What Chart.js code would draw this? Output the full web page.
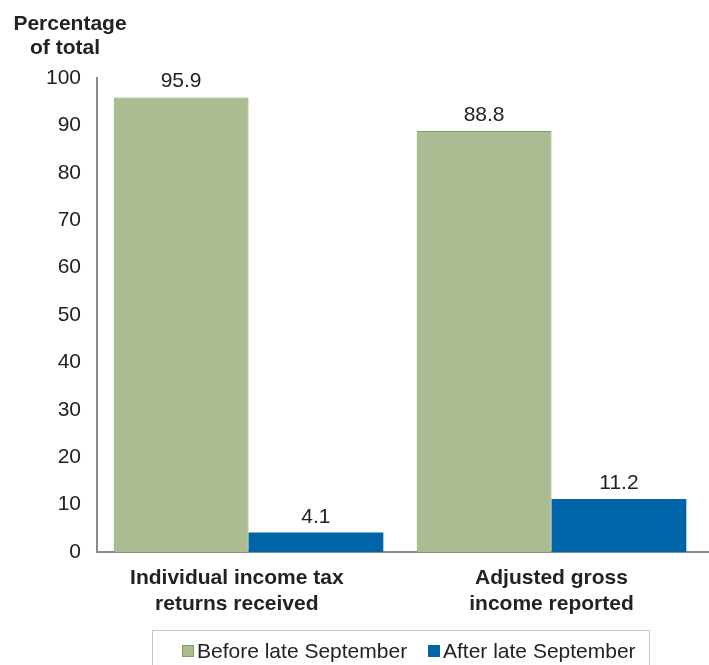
<!DOCTYPE html>
<html>
<head>
<meta charset="utf-8">
<script src="https://cdn.jsdelivr.net/npm/chart.js@4/dist/chart.umd.min.js"></script>
<style>
body { margin: 0; background: #fff; }
#wrap { width: 709px; height: 665px; position: relative; }
</style>
</head>
<body>
<div id="wrap"><canvas id="myChart"></canvas></div>
<script>
// trailing spaces nudge the first label left, as in the original layout
var categories = [["Individual income tax    ", "returns received    "], ["Adjusted gross", "income reported"]];
var seriesNames = ["Before late September", "After late September"];
var beforeValues = [95.9, 88.8];
var afterValues = [4.1, 11.2];
var yTicks = [0, 10, 20, 30, 40, 50, 60, 70, 80, 90, 100];

var green = "#abbc93";
var greenEdge = "#76a257";
var blue = "#0064a8";
var font = "'Liberation Sans', Arial, sans-serif";

// title, value labels and the boxed legend
var extras = {
    id: "extras",
    afterDatasetsDraw: function(chart) {
        var ctx = chart.ctx;
        var area = chart.chartArea;
        ctx.save();
        // axis line runs on to the edge
        ctx.strokeStyle = "#8a8a8a";
        ctx.lineWidth = 2;
        ctx.beginPath();
        ctx.moveTo(area.right - 1, chart.scales.y.getPixelForValue(0));
        ctx.lineTo(chart.width, chart.scales.y.getPixelForValue(0));
        ctx.stroke();

        ctx.fillStyle = "#222";
        ctx.textAlign = "center";
        ctx.textBaseline = "alphabetic";
        ctx.font = "21px " + font;
        chart.data.datasets.forEach(function(ds, i) {
            chart.getDatasetMeta(i).data.forEach(function(bar, j) {
                ctx.fillText(ds.data[j].toFixed(1), bar.x, bar.y - 10);
            });
        });

        ctx.font = "bold 21px " + font;
        ctx.fillText("Percentage", 70, 30);
        ctx.fillText("of total", 65, 54);

        // legend
        ctx.strokeStyle = "#c8c8c8";
        ctx.lineWidth = 1;
        ctx.strokeRect(152.5, 630.5, 497, 40);
        ctx.font = "21px " + font;
        ctx.textAlign = "left";
        var items = [
            {x: 182, fill: green, edge: greenEdge},
            {x: 428, fill: blue, edge: blue}
        ];
        items.forEach(function(it, k) {
            ctx.fillStyle = it.fill;
            ctx.fillRect(it.x, 645, 12, 12);
            ctx.strokeStyle = it.edge;
            ctx.strokeRect(it.x + 0.5, 645.5, 11, 11);
            ctx.fillStyle = "#222";
            ctx.fillText(seriesNames[k], it.x + 15, 658);
        });
        ctx.restore();
    }
};

new Chart(document.getElementById("myChart"), {
    type: "bar",
    data: {
        labels: categories,
        datasets: [
            {
                label: seriesNames[0],
                data: beforeValues,
                backgroundColor: green,
                borderColor: greenEdge,
                borderWidth: 1,
                borderSkipped: "bottom"
            },
            {
                label: seriesNames[1],
                data: afterValues,
                backgroundColor: blue,
                borderWidth: 0
            }
        ]
    },
    options: {
        responsive: true,
        maintainAspectRatio: false,
        animation: false,
        layout: { padding: { top: 78, right: 6, left: 0, bottom: 0 } },
        plugins: {
            legend: { display: false },
            tooltip: { enabled: false }
        },
        datasets: {
            bar: { categoryPercentage: 0.89, barPercentage: 1.0 }
        },
        scales: {
            x: {
                grid: { display: false, drawTicks: false },
                border: { display: true, color: "#8a8a8a", width: 2 },
                ticks: {
                    color: "#222",
                    padding: 14,
                    font: { family: font, size: 21, weight: "bold", lineHeight: 1.2 }
                },
                afterFit: function(s) { s.height = 113; }
            },
            y: {
                min: 0,
                max: 100,
                afterBuildTicks: function(s) {
                    s.ticks = yTicks.map(function(v) { return {value: v}; });
                },
                grid: { display: false, drawTicks: false },
                border: { display: true, color: "#8a8a8a", width: 2 },
                ticks: {
                    color: "#222",
                    padding: 16,
                    font: { family: font, size: 21 }
                },
                afterFit: function(s) { s.width = 97; }
            }
        }
    },
    plugins: [extras]
});
</script>
</body>
</html>
